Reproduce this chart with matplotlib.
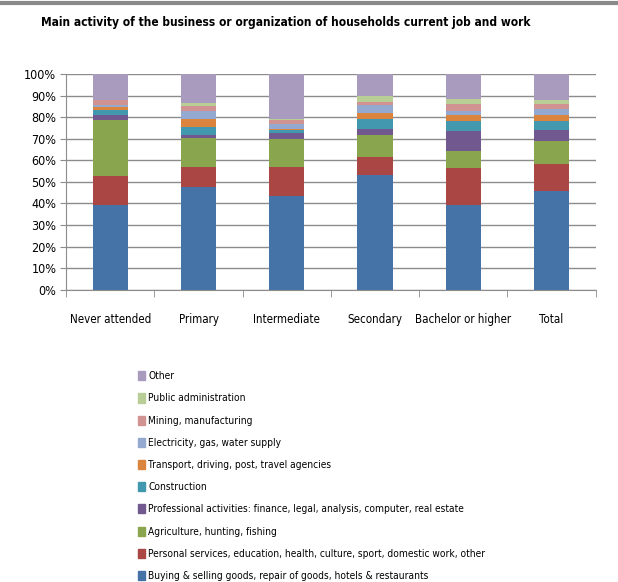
import numpy as np
import matplotlib.pyplot as plt
from matplotlib.lines import Line2D
from matplotlib.patches import Patch

levels = ['Never attended', 'Primary', 'Intermediate', 'Secondary',
          'Bachelor or higher', 'Total']

# shares in % per education level, stacked bottom to top
buying = [39.2, 47.5, 43.5, 53.1, 39.2, 45.8]
personal = [13.3, 9.6, 13.6, 8.3, 17.4, 12.7]
agriculture = [26.2, 13.4, 12.7, 10.2, 7.9, 10.2]
professional = [2.3, 1.1, 3.0, 2.9, 9.1, 5.4]
construction = [2.3, 3.7, 1.3, 4.6, 4.5, 4.1]
transport = [1.3, 3.9, 0.3, 2.6, 2.9, 3.0]
electricity = [1.2, 3.4, 2.5, 3.7, 2.0, 2.4]
mining = [2.0, 2.7, 1.8, 1.8, 3.1, 2.5]
public_admin = [0.3, 1.0, 0.2, 2.4, 2.3, 1.7]
other = [11.9, 13.7, 21.1, 10.4, 11.6, 12.2]

series = [
    ('Buying & selling goods, repair of goods, hotels & restaurants', buying, '#4572A7'),
    ('Personal services, education, health, culture, sport, domestic work, other', personal, '#AA4643'),
    ('Agriculture, hunting, fishing', agriculture, '#89A54E'),
    ('Professional activities: finance, legal, analysis, computer, real estate', professional, '#71588F'),
    ('Construction', construction, '#4198AF'),
    ('Transport, driving, post, travel agencies', transport, '#DB843D'),
    ('Electricity, gas, water supply', electricity, '#93A9CF'),
    ('Mining, manufacturing', mining, '#D19392'),
    ('Public administration', public_admin, '#B9CD96'),
    ('Other', other, '#A99BBD'),
]

plt.rcParams['font.family'] = 'DejaVu Sans'
plt.rcParams['font.stretch'] = 'condensed'

fig = plt.figure(figsize=(6.18, 5.82), dpi=100)
ax = fig.add_axes([0.107, 0.502, 0.857, 0.371])

x = np.arange(len(levels))
bottom = np.zeros(len(levels))
for name, vals, col in series:
    vals = np.array(vals)
    ax.bar(x, vals / 100, 0.4, bottom=bottom / 100, color=col, zorder=3,
           linewidth=0)
    bottom += vals

ax.set_xlim(-0.5, len(levels) - 0.5)
ax.set_ylim(0, 1)
ax.set_yticks(np.linspace(0, 1, 11))
ax.set_yticklabels(['%d%%' % v for v in range(0, 101, 10)], fontsize=9)
ax.yaxis.grid(True, color='#8c8c8c', linewidth=1, zorder=0)
ax.set_xticks(x)
ax.set_xticklabels(levels, fontsize=8.3)
ax.set_xticks(np.arange(-0.5, len(levels)), minor=True)
ax.tick_params(axis='x', which='major', length=0, pad=17)
ax.tick_params(axis='x', which='minor', length=5, color='#8c8c8c')
ax.tick_params(axis='y', length=4, color='#8c8c8c', pad=3)
for side in ['top', 'right']:
    ax.spines[side].set_visible(False)
for side in ['left', 'bottom']:
    ax.spines[side].set_color('#8c8c8c')

fig.text(0.463, 0.962, 'Main activity of the business or organization of households current job and work',
         ha='center', va='center', fontsize=8.6, fontweight='bold')

handles = [Patch(color=col, label=name) for name, vals, col in series][::-1]
fig.legend(handles=handles, loc='upper left', bbox_to_anchor=(0.217, 0.369),
           frameon=False, fontsize=7.3, handlelength=0.65, handleheight=1.0,
           handletextpad=0.35, labelspacing=1.2, borderaxespad=0)

# grey strip along the top edge
fig.add_artist(Line2D([0, 1], [0.994, 0.994], color='#8a8a8a', linewidth=3))

fig.savefig('out.png', dpi=100)
